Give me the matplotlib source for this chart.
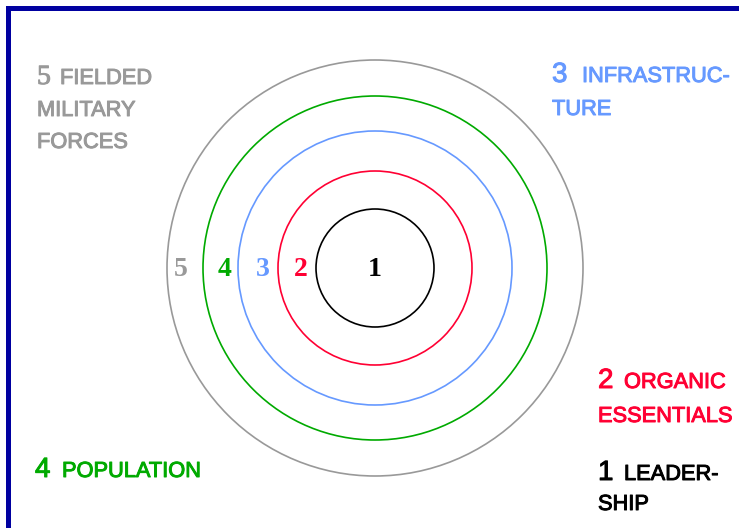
import matplotlib
matplotlib.use("Agg")
import matplotlib.pyplot as plt
import matplotlib.patheffects as pe
from matplotlib.patches import Circle

# five rings model, innermost first
ring_numbers = ["1", "2", "3", "4", "5"]
ring_radii = [59, 97, 137, 172, 208]
ring_label_x = [375, 301, 263, 225, 181]
ring_colors = ["#000000", "#FF0033", "#6699FF", "#00AA00", "#999999"]

# corner captions: number, first word, further lines
caption_number = ["1", "2", "3", "4", "5"]
caption_lines = [
    ["LEADER-", "SHIP"],
    ["ORGANIC", "ESSENTIALS"],
    ["INFRASTRUC-", "TURE"],
    ["POPULATION"],
    ["FIELDED", "MILITARY", "FORCES"],
]

W, H = 739, 528
cx, cy = 375, 268

fig = plt.figure(figsize=(W / 100, H / 100), dpi=100)
ax = fig.add_axes([0, 0, 1, 1])
ax.set_xlim(0, W)
ax.set_ylim(H, 0)
ax.axis("off")

# blue frame on top and left
frame = fig.add_axes([7.5 / W, 0, 1 - 7.5 / W, 1 - 7.5 / H], facecolor="none")
frame.set_xticks([])
frame.set_yticks([])
for side in ["right", "bottom"]:
    frame.spines[side].set_visible(False)
for side in ["left", "top"]:
    frame.spines[side].set_color("#0000A0")
    frame.spines[side].set_linewidth(3.6)

for num, r, lx, col in zip(ring_numbers, ring_radii, ring_label_x, ring_colors):
    ax.add_patch(Circle((cx, cy), r, fill=False, edgecolor=col, linewidth=1.2))
    ax.text(lx, 276, num, color=col, ha="center", va="baseline",
            family="Liberation Serif", weight="bold", fontsize=20)

# (x of number, x of first word, baseline of first line, line step)
layout = {
    "1": (598, 624, 480, 30),
    "2": (598, 624, 388, 34),
    "3": (552, 582, 82, 33),
    "4": (35, 62, 477, 32),
    "5": (37, 60, 84, 32),
}

for i, num in enumerate(caption_number):
    col = ring_colors[i]
    nx, wx, by, step = layout[num]
    thick = [pe.withStroke(linewidth=0.7, foreground=col)]
    fam = "Liberation Serif" if num == "5" else "Liberation Sans"
    ax.text(nx, by, num, color=col, ha="left", va="baseline",
            family=fam, fontsize=20, path_effects=thick)
    for j, line in enumerate(caption_lines[i]):
        ax.text(wx if j == 0 else nx, by + j * step, line, color=col,
                ha="left", va="baseline", family="Liberation Sans", fontsize=15.7,
                path_effects=thick)

fig.savefig("out.png", dpi=100)
